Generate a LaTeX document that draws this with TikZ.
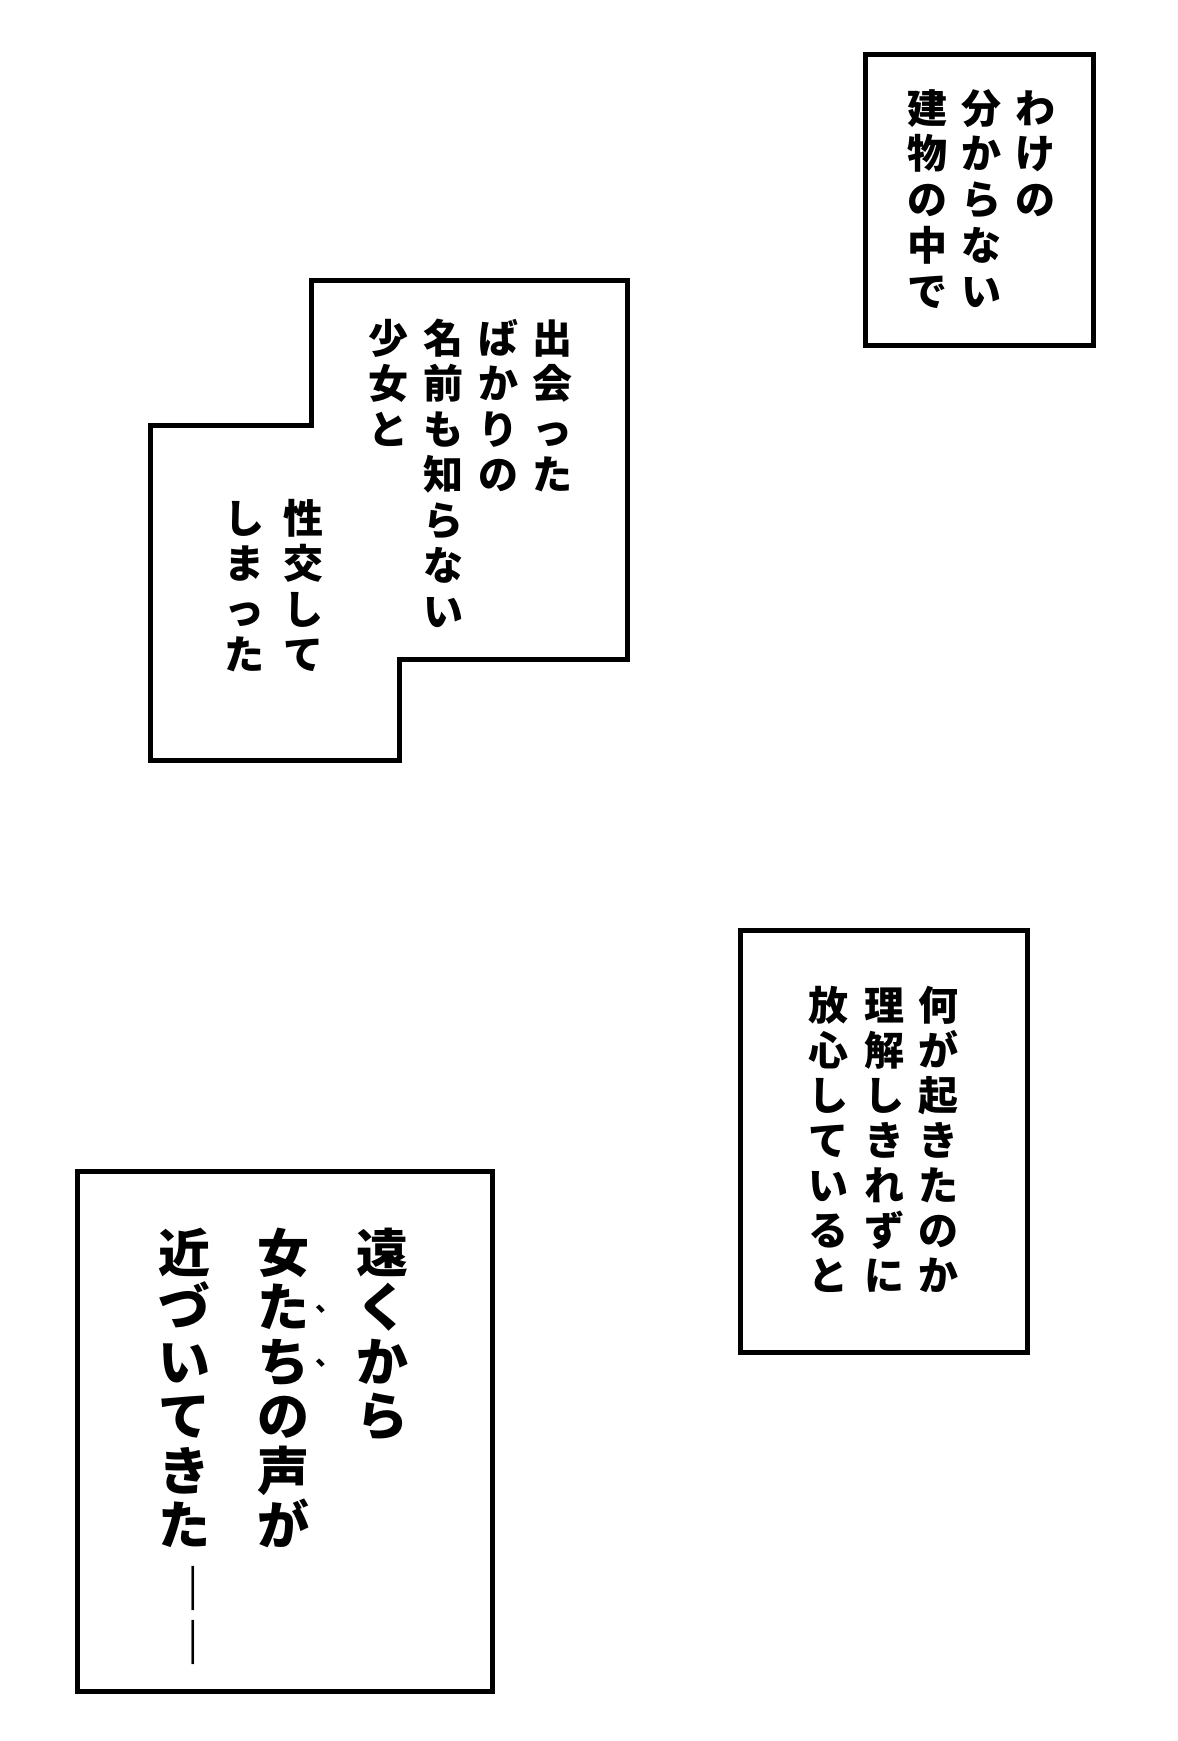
\documentclass[tikz,border=0pt]{standalone}
\usepackage{graphicx}
\usepackage{fontspec}
\newfontfamily\jp{Noto Sans CJK JP}
\ExplSyntaxOn
\NewDocumentCommand\vcol{m m}{
  \vtop{
    \baselineskip=#1\relax
    \lineskiplimit=-1000pt\relax
    \lineskip=0pt\relax
    \tl_map_inline:nn {#2}{ \hbox_to_wd:nn {1em}{\hss ##1\hss} }
  }
}
\ExplSyntaxOff
\newcommand\vbar{\rotatebox[origin=c]{-90}{―}}
\tikzset{
  panel/.style={draw=black, line width=5pt, fill=white, inner sep=0pt},
  colA/.style={anchor=base, inner sep=0pt, font=\jp\bfseries\fontsize{40}{46}\selectfont},
  colB/.style={anchor=base, inner sep=0pt, font=\jp\bfseries\fontsize{52}{56}\selectfont},
  emph/.style={anchor=base west, inner sep=0pt, font=\jp\bfseries\fontsize{26}{28}\selectfont}
}
\begin{document}
\begin{tikzpicture}[x=1pt,y=-1pt]
\useasboundingbox (0,0) rectangle (1178,1741);
\fill[white] (0,0) rectangle (1178,1741);

% panel 1
\node[panel, minimum width=228.5pt, minimum height=291.7pt] (p1) at (979.25,199.85) {};
\node[colA] (t1a) at (1035,123) {\vcol{45.8pt}{わけの}};
\node[colA] (t1b) at (981,123) {\vcol{45.8pt}{分からない}};
\node[colA] (t1c) at (927,123) {\vcol{45.8pt}{建物の中で}};

% panel 2 (stepped outline)
\draw[line width=5pt, fill=white, line join=miter]
  (311.7,280) -- (627.5,280) -- (627.5,659.5) -- (399.5,659.5) -- (399.5,760)
  -- (150.7,760) -- (150.7,425.5) -- (311.7,425.5) -- cycle;
\node[colA] (t2a) at (552,353) {\vcol{45.5pt}{出会った}};
\node[colA] (t2b) at (498,353) {\vcol{45.5pt}{ばかりの}};
\node[colA] (t2c) at (443,353) {\vcol{45.5pt}{名前も知らない}};
\node[colA] (t2d) at (388,353) {\vcol{45.5pt}{少女と}};
\node[colA] (t2e) at (303,533) {\vcol{45.5pt}{性交して}};
\node[colA] (t2f) at (244,533) {\vcol{45.5pt}{しまった}};

% panel 3
\node[panel, minimum width=287.5pt, minimum height=422.5pt] (p3) at (883.75,1141.25) {};
\node[colA] (t3a) at (938,1020) {\vcol{45pt}{何が起きたのか}};
\node[colA] (t3b) at (884,1020) {\vcol{45pt}{理解しきれずに}};
\node[colA] (t3c) at (828,1020) {\vcol{45pt}{放心していると}};

% panel 4
\node[panel, minimum width=415pt, minimum height=520pt] (p4) at (285,1431) {};
\node[colB] (t4a) at (382,1272) {\vcol{54.5pt}{遠くから}};
\node[colB] (t4b) at (283,1272) {\vcol{54.5pt}{女たちの声が}};
\node[colB] (t4c) at (184,1272) {\vcol{54.5pt}{近づいてきた{\vbar}{\vbar}}};
\node[emph] (e1) at (315,1311) {、};
\node[emph] (e2) at (315,1365) {、};
\end{tikzpicture}
\end{document}
